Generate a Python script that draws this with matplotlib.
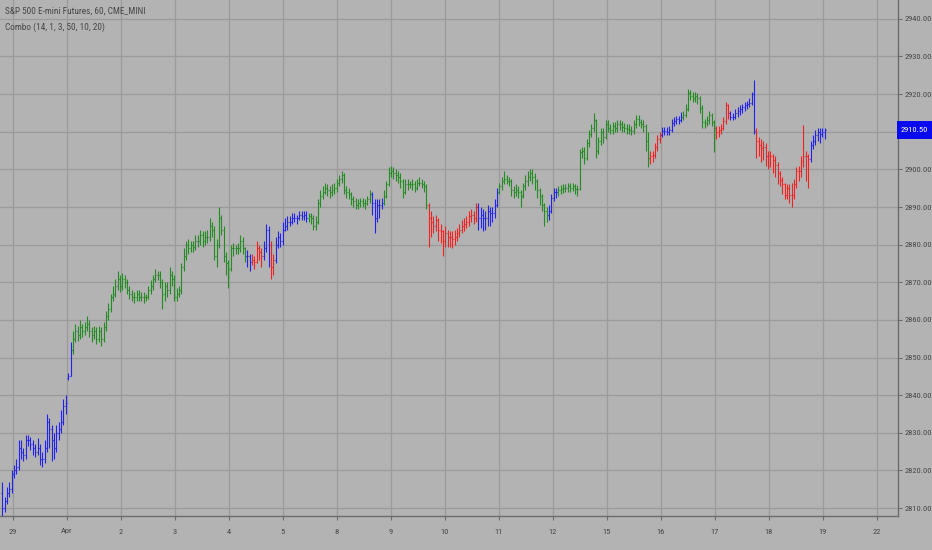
import matplotlib
matplotlib.use("Agg")
import matplotlib.pyplot as plt
from matplotlib.collections import LineCollection
from matplotlib.patches import Rectangle
from matplotlib.font_manager import FontProperties, fontManager
from matplotlib.textpath import TextPath
import numpy as np

# ---------------- data ----------------
title_text = "S&P 500 E-mini Futures, 60, CME_MINI"
indicator_text = "Combo (14, 1, 3, 50, 10, 20)"
last_price_label = "2910.50"

opens = [
    2814, 2810, 2812, 2814, 2815, 2819, 2820, 2821, 2826, 2825,
    2824, 2828, 2828, 2827, 2826, 2825, 2826, 2823, 2823, 2826,
    2833, 2831, 2828, 2826, 2830, 2831, 2833, 2837, 2844.5, 2845,
    2852, 2855, 2857, 2856, 2858, 2857, 2858, 2859, 2857, 2856,
    2857, 2855, 2857, 2855, 2858, 2861, 2863, 2866, 2867, 2869,
    2871, 2869, 2871, 2870, 2868, 2867, 2866, 2866, 2867, 2866,
    2866, 2866, 2866, 2868, 2869, 2871, 2872, 2872, 2870, 2867,
    2869, 2868, 2872, 2871, 2866, 2867, 2868, 2874, 2877, 2880,
    2879, 2880, 2879.5, 2881, 2881, 2882.5, 2881, 2882, 2882, 2885,
    2884, 2877, 2880, 2887, 2884, 2877, 2875, 2873.5, 2879, 2879,
    2879, 2879, 2881, 2879, 2877, 2877, 2875.5, 2876, 2875.5, 2879,
    2878, 2877, 2879, 2884, 2880, 2874, 2876, 2880, 2882, 2881,
    2884, 2885, 2886, 2886, 2887, 2887, 2887, 2888, 2887.5, 2888,
    2887, 2887.5, 2887, 2885, 2886, 2891, 2893, 2894, 2895, 2894.5,
    2894, 2894.5, 2895, 2896.5, 2897.5, 2898.5, 2894.5, 2894, 2893.5, 2892,
    2891.5, 2890.5, 2891, 2891.5, 2891, 2891, 2892, 2893.5, 2891, 2887,
    2890.5, 2890.5, 2891, 2893, 2896, 2899, 2899.5, 2899, 2898.5, 2898,
    2897, 2894, 2896, 2896, 2896, 2896, 2895, 2896.5, 2896.5, 2896,
    2895.5, 2890.5, 2887, 2886, 2885, 2886.5, 2884, 2883.5, 2881, 2883,
    2882, 2882, 2881.5, 2882, 2883, 2884, 2885, 2885.5, 2886, 2887.5,
    2888, 2887, 2890, 2887, 2888, 2887, 2887, 2889, 2888.5, 2888.5,
    2890.5, 2894, 2895.5, 2897, 2897.5, 2897, 2897, 2894.5, 2894, 2894.5,
    2894, 2893, 2895.5, 2897, 2898, 2899, 2898, 2897, 2894.5, 2893,
    2890.5, 2889, 2888, 2889, 2892.5, 2894, 2894, 2894.5, 2894.75, 2895,
    2895, 2895.5, 2895, 2895.5, 2894.75, 2894.75, 2904.5, 2905, 2903, 2907,
    2909.5, 2911, 2913, 2905, 2907.5, 2910, 2908.5, 2912, 2911, 2910.5,
    2911.5, 2911, 2912, 2912, 2911.25, 2911, 2910.75, 2910.5, 2910.25, 2912,
    2913.5, 2912.5, 2912, 2911.5, 2907.5, 2903, 2903.5, 2903.75, 2906, 2908,
    2909, 2910.25, 2910.25, 2910, 2910.5, 2912.25, 2912.75, 2913.25, 2913, 2914,
    2914.5, 2916, 2920.25, 2919.5, 2919, 2919.5, 2919, 2916.25, 2912.5, 2912.25,
    2913, 2914.5, 2912.5, 2911, 2910, 2910.5, 2911, 2912.75, 2917, 2915,
    2914, 2914, 2915, 2915.5, 2916, 2916.5, 2917, 2917.25, 2917.75, 2920,
    2910.25, 2907.5, 2906.5, 2905.75, 2906, 2903.5, 2903.5, 2903.5, 2902.5, 2901.25,
    2899, 2897.25, 2896, 2893.25, 2895, 2893.25, 2893.25, 2896, 2899.5, 2899.5,
    2902.25, 2903.5, 2903.5, 2902.75, 2906.5, 2907.5, 2909, 2910, 2909.5, 2910,
]

highs = [
    2817, 2813, 2815.5, 2817, 2820, 2821.5, 2823, 2828, 2828, 2826,
    2829.5, 2829.5, 2829, 2828, 2827, 2828.5, 2827, 2825, 2828, 2835,
    2834, 2832, 2830, 2832, 2833, 2836, 2839, 2840, 2846, 2854,
    2857, 2859, 2858.5, 2860, 2859, 2859.5, 2861, 2860, 2858, 2858.5,
    2858, 2858.5, 2858, 2859.5, 2862.5, 2864.5, 2867, 2869, 2871, 2873,
    2872, 2872.5, 2872, 2871, 2869, 2868, 2867.5, 2868, 2868, 2867.5,
    2867.5, 2867, 2869, 2870.5, 2872, 2873.5, 2873, 2873, 2871, 2870,
    2870, 2874, 2873, 2872, 2868.5, 2869, 2875, 2879, 2881, 2881.5,
    2881, 2881, 2882.5, 2882.5, 2884, 2883.5, 2883.5, 2884, 2887, 2886,
    2885, 2881.5, 2890, 2888, 2885, 2878, 2876, 2880, 2880.5, 2880,
    2880.5, 2882.5, 2882, 2879.5, 2878.5, 2877.5, 2877.5, 2877, 2881, 2880,
    2879, 2881, 2885.5, 2885, 2881, 2877.5, 2882, 2883.5, 2883, 2886,
    2887, 2887.5, 2887.5, 2888.5, 2888.5, 2888, 2889, 2889, 2889, 2889,
    2888.5, 2888.5, 2888, 2887.5, 2892, 2894.5, 2895.5, 2896.5, 2896, 2895.5,
    2896, 2896.5, 2897.5, 2898.5, 2899.5, 2899, 2895.5, 2895, 2894, 2893,
    2892.5, 2892, 2892.5, 2892.5, 2892, 2893, 2894.5, 2894, 2892, 2892,
    2892, 2892.5, 2894.5, 2897, 2900.5, 2901, 2900.5, 2900, 2899.5, 2899,
    2897.5, 2897.5, 2897.5, 2897, 2897.5, 2897, 2897.5, 2898, 2897.5, 2897,
    2896, 2891, 2889, 2887.5, 2888, 2887, 2885.5, 2884, 2885, 2884,
    2883.5, 2883.5, 2884, 2884.5, 2885.5, 2886.5, 2887, 2887.5, 2889, 2889.5,
    2889, 2891, 2891, 2890, 2889.5, 2889, 2890.5, 2890, 2890, 2892,
    2895, 2896.5, 2898, 2899.5, 2898.5, 2898, 2897.5, 2895.5, 2896, 2895.5,
    2894.5, 2896.5, 2898.5, 2899.5, 2900, 2900, 2899, 2897.5, 2895, 2893.5,
    2891, 2890, 2890.5, 2893.5, 2895, 2895, 2895.5, 2895.75, 2896, 2896,
    2896.5, 2896.25, 2896.5, 2896, 2895.75, 2905.5, 2906, 2906, 2908, 2910.5,
    2912, 2915, 2913.5, 2908.5, 2911, 2911, 2913, 2913, 2912, 2912.5,
    2912.5, 2913, 2913, 2912.75, 2912.25, 2912, 2912, 2911.5, 2913, 2914.5,
    2914.5, 2913.5, 2913, 2912, 2910, 2905, 2905, 2907, 2909, 2910,
    2911.25, 2911.25, 2911.25, 2911.5, 2913.5, 2914, 2914.25, 2914.25, 2915.25, 2915.5,
    2917.5, 2921.25, 2921, 2920.5, 2920.5, 2920.25, 2919.5, 2917, 2913.5, 2914.25,
    2915.5, 2915, 2913, 2911.5, 2911.5, 2912, 2914, 2918, 2917.5, 2915.5,
    2915, 2916, 2916.5, 2917, 2917.5, 2918, 2918.25, 2919, 2920.5, 2923.75,
    2911, 2908.5, 2908, 2907.5, 2907, 2905, 2905, 2904, 2903.5, 2902,
    2899.5, 2898, 2896.5, 2896, 2896, 2896.5, 2897.5, 2900.5, 2901, 2903.5,
    2911.75, 2905, 2904, 2907.5, 2909, 2910.5, 2911, 2911, 2911, 2911,
]

lows = [
    2808, 2809, 2811, 2813, 2814, 2818, 2819, 2820, 2823, 2822.5,
    2823, 2826.5, 2825.5, 2824, 2823.5, 2824, 2821.5, 2821, 2822, 2825,
    2826, 2822.5, 2823, 2825, 2828, 2830, 2832, 2835, 2844, 2845,
    2851, 2854, 2854.5, 2855, 2855.5, 2856, 2857, 2855.5, 2854, 2855,
    2853.5, 2854, 2853, 2854, 2857, 2860, 2862, 2865, 2866, 2868,
    2867.5, 2868, 2868.5, 2867, 2865.5, 2865, 2864.5, 2865, 2865, 2865,
    2864.5, 2865, 2865.5, 2867, 2868, 2870, 2870.5, 2868.5, 2863, 2865,
    2866, 2867, 2869, 2865, 2865, 2866, 2867, 2873, 2876, 2877.5,
    2878, 2878, 2878.5, 2879.5, 2880, 2879.5, 2880, 2880.5, 2881, 2882,
    2876, 2874, 2879, 2882.5, 2875.5, 2872, 2868.5, 2873, 2877, 2877.5,
    2877.5, 2878, 2877.5, 2875.5, 2874, 2873, 2874.5, 2873.5, 2875, 2876,
    2874, 2876, 2878, 2874, 2871, 2872, 2875, 2879, 2879.5, 2880,
    2883.5, 2884, 2885, 2885.5, 2886, 2885.5, 2886.5, 2886.5, 2886.5, 2886,
    2886, 2885.5, 2884, 2884, 2885.5, 2890, 2892, 2893.5, 2893, 2892.5,
    2893, 2893.5, 2894, 2895.5, 2896.5, 2893.5, 2892.5, 2892, 2890.5, 2890,
    2889.5, 2889.5, 2890, 2890, 2889.5, 2890.5, 2891, 2888, 2883, 2886,
    2887, 2889.5, 2890.5, 2892.5, 2895.5, 2898, 2897.5, 2897, 2896.5, 2895,
    2892.5, 2893.5, 2894.5, 2895, 2894.5, 2894, 2894.5, 2895.5, 2895, 2894,
    2889.5, 2879.5, 2882, 2883, 2883.5, 2881, 2880.5, 2877, 2879.5, 2879.5,
    2879.5, 2879, 2880, 2881, 2882, 2883, 2883.5, 2884.5, 2885, 2886,
    2885.5, 2886, 2884, 2884.5, 2883.5, 2884, 2885, 2885, 2886, 2887,
    2890, 2893.5, 2894.5, 2896, 2896, 2895.5, 2893, 2892.5, 2893, 2892.5,
    2890, 2892.5, 2894.5, 2895.5, 2897, 2896, 2894.5, 2892.5, 2890.5, 2889,
    2885, 2886, 2886.5, 2888.5, 2891.5, 2892.5, 2893, 2893.5, 2893.75, 2894,
    2894, 2894, 2894.25, 2893.5, 2893, 2894.5, 2903, 2901.5, 2902.5, 2906,
    2908.5, 2910, 2903, 2904, 2906.5, 2907, 2908, 2910, 2909.5, 2909.5,
    2910, 2910, 2910.5, 2910, 2910, 2909.5, 2909.5, 2909, 2909.5, 2911,
    2911.5, 2911, 2910, 2905, 2900.5, 2901.5, 2902, 2903, 2905, 2907,
    2908.5, 2909.25, 2909, 2909, 2910, 2911.5, 2912, 2912, 2912.5, 2913,
    2914, 2915.5, 2918.5, 2918, 2918, 2917.5, 2915, 2911, 2911, 2911.5,
    2912, 2911.5, 2904.5, 2908, 2908.5, 2909.5, 2910.5, 2912, 2913.5, 2913,
    2913, 2913.5, 2914, 2914.5, 2915, 2915.5, 2916, 2916.5, 2917, 2909.5,
    2903, 2903.5, 2902, 2902.5, 2901, 2900, 2900.5, 2899, 2898, 2896,
    2895.5, 2893.5, 2892, 2892, 2891, 2890, 2892, 2895, 2897, 2898,
    2900.5, 2897, 2895, 2902, 2905.5, 2906.5, 2907.5, 2907, 2908.5, 2908,
]

closes = [
    2810, 2812, 2814, 2815, 2819, 2820, 2821, 2826, 2825, 2824,
    2828, 2828, 2827, 2826, 2825, 2826, 2823, 2823, 2826, 2833,
    2831, 2828, 2826, 2830, 2831, 2833, 2837, 2838, 2845, 2852,
    2855, 2857, 2856, 2858, 2857, 2858, 2859, 2857, 2856, 2857,
    2855, 2857, 2855, 2858, 2861, 2863, 2866, 2867, 2869, 2871,
    2869, 2871, 2870, 2868, 2867, 2866, 2866, 2867, 2866, 2866,
    2866, 2866, 2868, 2869, 2871, 2872, 2872, 2870, 2867, 2869,
    2868, 2872, 2871, 2866, 2867, 2868, 2874, 2877, 2880, 2879,
    2880, 2879.5, 2881, 2881, 2882.5, 2881, 2882, 2882, 2885, 2884,
    2877, 2880, 2887, 2884, 2877, 2875, 2873.5, 2879, 2879, 2879,
    2879, 2881, 2879, 2877, 2877, 2875.5, 2876, 2875.5, 2879, 2878,
    2877, 2879, 2884, 2880, 2874, 2876, 2880, 2882, 2881, 2884,
    2885, 2886, 2886, 2887, 2887, 2887, 2888, 2887.5, 2888, 2887,
    2887.5, 2887, 2885, 2886, 2891, 2893, 2894, 2895, 2894.5, 2894,
    2894.5, 2895, 2896.5, 2897.5, 2898.5, 2894.5, 2894, 2893.5, 2892, 2891.5,
    2890.5, 2891, 2891.5, 2891, 2891, 2892, 2893.5, 2891, 2887, 2890.5,
    2890.5, 2891, 2893, 2896, 2899, 2899.5, 2899, 2898.5, 2898, 2897,
    2894, 2896, 2896, 2896, 2896, 2895, 2896.5, 2896.5, 2896, 2895.5,
    2890.5, 2887, 2886, 2885, 2886.5, 2884, 2883.5, 2881, 2883, 2882,
    2882, 2881.5, 2882, 2883, 2884, 2885, 2885.5, 2886, 2887.5, 2888,
    2887, 2890, 2887, 2888, 2887, 2887, 2889, 2888.5, 2888.5, 2890.5,
    2894, 2895.5, 2897, 2897.5, 2897, 2897, 2894.5, 2894, 2894.5, 2894,
    2893, 2895.5, 2897, 2898, 2899, 2898, 2897, 2894.5, 2893, 2890.5,
    2889, 2888, 2889, 2892.5, 2894, 2894, 2894.5, 2894.75, 2895, 2895,
    2895.5, 2895, 2895.5, 2894.75, 2894.75, 2904.5, 2905, 2903, 2907, 2909.5,
    2911, 2913, 2905, 2907.5, 2910, 2908.5, 2912, 2911, 2910.5, 2911.5,
    2911, 2912, 2912, 2911.25, 2911, 2910.75, 2910.5, 2910.25, 2912, 2913.5,
    2912.5, 2912, 2911.5, 2907.5, 2903, 2903.5, 2903.75, 2906, 2908, 2909,
    2910.25, 2910.25, 2910, 2910.5, 2912.25, 2912.75, 2913.25, 2913, 2914, 2914.5,
    2916, 2920.25, 2919.5, 2919, 2919.5, 2919, 2916.25, 2912.5, 2912.25, 2913,
    2914.5, 2912.5, 2911, 2910, 2910.5, 2911, 2912.75, 2917, 2915, 2914,
    2914, 2915, 2915.5, 2916, 2916.5, 2917, 2917.25, 2917.75, 2920, 2910.25,
    2907.5, 2906.5, 2905.75, 2906, 2903.5, 2903.5, 2903.5, 2902.5, 2901.25, 2899,
    2897.25, 2896, 2893.25, 2895, 2893.25, 2893.25, 2896, 2899.5, 2899.5, 2902.25,
    2903.5, 2903.5, 2902.75, 2906.5, 2907.5, 2909, 2910, 2909.5, 2910, 2910.5,
]

# indicator signal per run of bars: (state, number of bars)
signal_runs = [
    ("b", 30), ("g", 74), ("b", 2), ("r", 5), ("b", 3), ("r", 2), ("b", 14),
    ("g", 27), ("b", 5), ("g", 19), ("r", 21), ("b", 9), ("g", 21), ("b", 4),
    ("g", 39), ("r", 5), ("b", 9), ("g", 14), ("r", 6), ("b", 11), ("r", 23),
    ("b", 7),
]

date_labels = ["29", "Apr", "2", "3", "4", "5", "8", "9", "10", "11", "12",
               "15", "16", "17", "18", "19", "22"]

price_ticks = [2810, 2820, 2830, 2840, 2850, 2860, 2870, 2880, 2890, 2900,
               2910, 2920, 2930, 2940]

# ---------------- style / layout ----------------
W, H = 932, 550
BG = "#b3b3b3"
GRID = "#9b9b9b"
AXIS = "#6c6c6c"
TXT = "#474747"
COL = {"g": "#228b22", "b": "#2222ee", "r": "#ee2222"}

# pick the narrowest regular face among known sans families
ok_fams = {"DejaVu Sans", "Liberation Sans", "Liberation Sans Narrow",
           "Noto Sans", "Roboto", "Roboto Condensed", "Open Sans",
           "Open Sans Condensed", "Open Sans SemiCondensed", "Lato", "Inter",
           "Noto Sans Condensed", "Noto Sans SemiCondensed",
           "Noto Sans ExtraCondensed", "DejaVu Sans Condensed"}
best_fp, best_w = None, None
for fe in fontManager.ttflist:
    if fe.name not in ok_fams or fe.style != "normal":
        continue
    fn = fe.fname.lower()
    if any(k in fn for k in ("bold", "light", "thin", "medium", "black",
                             "semibold", "italic", "oblique", "extralight")):
        continue
    try:
        fp = FontProperties(fname=fe.fname)
        wdt = TextPath((0, 0), "2940.00", size=10, prop=fp).get_extents().width
    except Exception:
        continue
    if wdt <= 0:
        continue
    if best_w is None or wdt < best_w:
        best_fp, best_w = fp, wdt


def fitted_size(text, target_px, fp):
    w = TextPath((0, 0), text, size=10, prop=fp).get_extents().width * 100 / 72
    return 10 * target_px / w


FP = best_fp if best_fp is not None else FontProperties(family="DejaVu Sans")
FS_AX = min(fitted_size("2940.00", 26.5, FP), 8.5)
FS_TITLE = min(fitted_size(title_text, 140, FP), 8.5)
FS_IND = min(fitted_size(indicator_text, 98, FP), 8.5)

fig = plt.figure(figsize=(W / 100, H / 100), dpi=100)
fig.patch.set_facecolor(BG)
ax_right_px = 898
ax_bottom_px = 516
ax = fig.add_axes([0, 1 - ax_bottom_px / H, ax_right_px / W, ax_bottom_px / H])
ax.set_facecolor(BG)

n = len(closes)
xs = np.arange(n)
colors = []
for state, cnt in signal_runs:
    colors += [COL[state]] * cnt

tick_len = 0.42
segs = []
segcols = []
for i in range(n):
    segs.append([(xs[i], lows[i]), (xs[i], highs[i])])
    segs.append([(xs[i] - tick_len, opens[i]), (xs[i], opens[i])])
    segs.append([(xs[i], closes[i]), (xs[i] + tick_len, closes[i])])
    segcols += [colors[i]] * 3
lc = LineCollection(segs, colors=segcols, linewidths=0.8, zorder=3)
ax.add_collection(lc)

ax.set_xlim(-0.93, 380.1)
ax.set_ylim(2807.9, 2945.0)

# grid
first_tick = 4.6
bars_per_day = 22.9
date_pos = [first_tick + bars_per_day * k for k in range(len(date_labels))]
for p in price_ticks:
    ax.axhline(p, color=GRID, lw=0.9, zorder=1)
for d in date_pos:
    ax.axvline(d, color=GRID, lw=0.9, zorder=1)

for s in ["top", "left"]:
    ax.spines[s].set_visible(False)
for s in ["right", "bottom"]:
    ax.spines[s].set_color(AXIS)
    ax.spines[s].set_linewidth(1.0)

last = closes[-1]
ax.yaxis.tick_right()
ax.set_yticks(price_ticks)
# the tick label right under the last-price box is hidden by it
ax.set_yticklabels(["" if abs(p - last) < 3 else f"{p:.2f}" for p in price_ticks])
ax.set_xticks(date_pos)
ax.set_xticklabels(date_labels)
ax.tick_params(axis="y", colors=AXIS, length=3, width=0.8, pad=1.5,
               labelcolor=TXT)
ax.tick_params(axis="x", colors=AXIS, length=3, width=0.8, pad=6,
               labelcolor=TXT)
for lab in ax.get_xticklabels() + ax.get_yticklabels():
    lab.set_fontproperties(FP)
    lab.set_fontsize(FS_AX)

# last price marker (box on the price scale)
y_last = ax.transData.transform((0, last))[1] / H
box_h = 18 / H
fig.patches.append(Rectangle((897 / W, y_last - box_h / 2), 35 / W, box_h,
                             transform=fig.transFigure, facecolor="#0a0af0",
                             edgecolor="none", zorder=10))
fig.text(914.5 / W, y_last, last_price_label, ha="center", va="center",
         color="white", fontproperties=FP, fontsize=FS_AX, zorder=11)

# header texts
fig.text(5 / W, 1 - 11 / H, title_text, color=TXT, fontproperties=FP,
         fontsize=FS_TITLE, ha="left", va="center")
fig.text(5 / W, 1 - 27 / H, indicator_text, color=TXT, fontproperties=FP,
         fontsize=FS_IND, ha="left", va="center")

fig.savefig("out.png", dpi=100, facecolor=BG)
